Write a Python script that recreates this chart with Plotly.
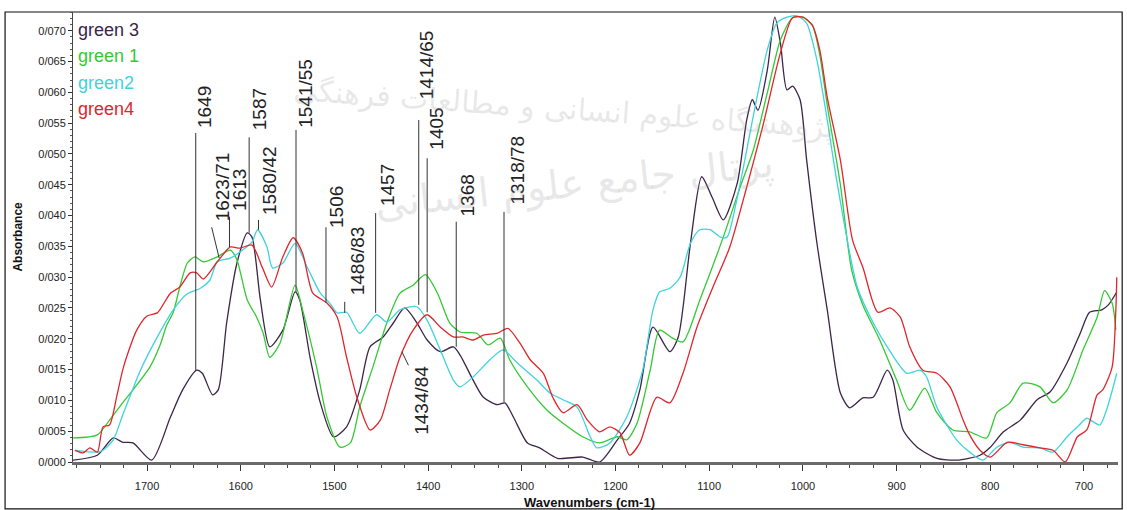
import plotly.graph_objects as go

# ---------------- data (wavenumber cm-1, absorbance) ----------------
wn_green3 = [1779,1753,1736,1726,1715,1695,1675,1662,1647,1641,1630,1624,1615,1604,1593,1588,1579,1569,1555,1542,
             1537,1526,1515,1501,1487,1473,1462,1448,1437,1425,1412,1401,1387,1373,1366,1352,1341,1326,1318,1309,
             1294,1281,1262,1235,1217,1198,1185,1174,1160,1142,1133,1120,1108,1097,1085,1070,1060,1054,1048,1038,
             1030,1024,1017,1011,1003,996,985,974,960,950,936,925,910,904,893,878,857,836,811,800,
             786,768,750,736,718,704,694,681,674,665]
abs_green3 = [0.0003,0.0011,0.0039,0.0032,0.0031,0.0003,0.0073,0.0117,0.0149,0.0144,0.0109,0.0117,0.0226,0.0323,0.0372,0.0365,0.0263,0.0187,0.0214,0.0276,
              0.0263,0.0170,0.0096,0.0041,0.0057,0.0117,0.0187,0.0203,0.0226,0.0250,0.0226,0.0198,0.0179,0.0187,0.0174,0.0133,0.0105,0.0093,0.0096,0.0073,
              0.0031,0.0023,0.0006,0.0008,0.0000,0.0036,0.0063,0.0117,0.0219,0.0179,0.0203,0.0355,0.0463,0.0430,0.0393,0.0453,0.0555,0.0588,0.0571,0.0636,
              0.0722,0.0680,0.0604,0.0610,0.0588,0.0490,0.0355,0.0247,0.0112,0.0088,0.0104,0.0105,0.0149,0.0133,0.0052,0.0024,0.0006,0.0003,0.0011,0.0024,
              0.0049,0.0068,0.0101,0.0114,0.0161,0.0209,0.0243,0.0247,0.0255,0.0276]

wn_green1 = [1779,1753,1740,1726,1715,1697,1686,1679,1672,1665,1657,1649,1640,1625,1611,1604,1593,1583,1576,1569,
             1558,1542,1534,1519,1508,1494,1483,1473,1459,1444,1430,1416,1403,1390,1377,1366,1348,1336,1323,1313,
             1294,1273,1256,1235,1217,1198,1188,1177,1163,1153,1139,1128,1110,1085,1067,1053,1038,1024,1011,1000,
             990,982,974,960,948,936,918,900,886,870,857,840,822,804,793,779,765,747,733,718,
             701,686,678,670,666]
abs_green1 = [0.0039,0.0044,0.0068,0.0096,0.0117,0.0154,0.0190,0.0222,0.0243,0.0284,0.0323,0.0333,0.0325,0.0333,0.0344,0.0328,0.0263,0.0235,0.0209,0.0170,
              0.0193,0.0287,0.0247,0.0154,0.0073,0.0024,0.0031,0.0089,0.0154,0.0226,0.0274,0.0287,0.0304,0.0274,0.0226,0.0211,0.0209,0.0190,0.0201,0.0166,
              0.0122,0.0084,0.0063,0.0041,0.0031,0.0041,0.0036,0.0063,0.0149,0.0214,0.0201,0.0195,0.0263,0.0365,0.0446,0.0506,0.0599,0.0685,0.0721,0.0722,
              0.0709,0.0661,0.0579,0.0450,0.0312,0.0255,0.0198,0.0133,0.0084,0.0120,0.0080,0.0052,0.0049,0.0039,0.0080,0.0096,0.0128,0.0122,0.0096,0.0117,
              0.0182,0.0235,0.0278,0.0258,0.0214]

wn_green2 = [1777,1753,1747,1736,1726,1707,1689,1672,1657,1643,1633,1625,1611,1598,1588,1582,1572,1566,1555,1542,
             1529,1515,1505,1497,1487,1473,1455,1444,1430,1412,1401,1387,1373,1366,1352,1334,1320,1305,1284,1270,
             1256,1241,1227,1220,1206,1188,1171,1160,1153,1142,1131,1120,1110,1099,1088,1081,1070,1060,1049,1038,
             1028,1017,1006,996,985,974,964,942,925,910,889,875,868,857,836,822,808,793,779,765,
             747,733,718,707,697,690,683,675,665]
abs_green2 = [0.0019,0.0016,0.0019,0.0036,0.0076,0.0149,0.0203,0.0247,0.0273,0.0282,0.0295,0.0325,0.0331,0.0344,0.0357,0.0377,0.0349,0.0315,0.0323,0.0355,
              0.0316,0.0274,0.0258,0.0242,0.0243,0.0209,0.0239,0.0227,0.0247,0.0252,0.0230,0.0182,0.0133,0.0122,0.0138,0.0166,0.0182,0.0161,0.0133,0.0112,
              0.0101,0.0089,0.0041,0.0023,0.0031,0.0073,0.0149,0.0247,0.0276,0.0282,0.0300,0.0355,0.0377,0.0377,0.0365,0.0365,0.0430,0.0506,0.0592,0.0669,
              0.0712,0.0722,0.0724,0.0712,0.0652,0.0555,0.0458,0.0284,0.0226,0.0187,0.0144,0.0149,0.0138,0.0089,0.0036,0.0016,0.0003,0.0024,0.0032,0.0024,
              0.0023,0.0016,0.0041,0.0057,0.0071,0.0065,0.0060,0.0089,0.0144]

wn_green4 = [1777,1768,1761,1753,1747,1740,1732,1726,1721,1711,1700,1689,1683,1675,1665,1654,1647,1640,1625,1611,
             1601,1588,1577,1567,1555,1544,1534,1523,1508,1497,1487,1476,1462,1451,1441,1430,1416,1401,1387,1373,
             1363,1352,1341,1326,1315,1302,1291,1277,1267,1256,1241,1230,1217,1206,1195,1185,1174,1156,1142,1128,
             1113,1096,1078,1060,1043,1024,1011,1000,990,982,974,960,947,936,920,907,896,886,872,857,
             843,829,822,811,800,782,765,747,733,720,707,697,686,680,670,666,665]
abs_green4 = [0.0019,0.0015,0.0023,0.0016,0.0057,0.0060,0.0109,0.0149,0.0174,0.0214,0.0237,0.0242,0.0255,0.0274,0.0284,0.0307,0.0307,0.0297,0.0325,0.0349,
              0.0347,0.0352,0.0316,0.0284,0.0333,0.0364,0.0339,0.0274,0.0258,0.0235,0.0170,0.0105,0.0052,0.0068,0.0117,0.0170,0.0214,0.0239,0.0219,0.0203,
              0.0203,0.0198,0.0206,0.0209,0.0217,0.0193,0.0166,0.0144,0.0105,0.0080,0.0093,0.0068,0.0049,0.0057,0.0047,0.0011,0.0031,0.0105,0.0096,0.0144,
              0.0219,0.0284,0.0349,0.0446,0.0544,0.0664,0.0721,0.0722,0.0709,0.0669,0.0592,0.0490,0.0360,0.0316,0.0243,0.0250,0.0235,0.0187,0.0149,0.0144,
              0.0122,0.0068,0.0044,0.0019,0.0008,0.0032,0.0028,0.0023,0.0019,0.0000,0.0041,0.0052,0.0109,0.0117,0.0154,0.0247,0.0300]

series_names = ["green 3", "green 1", "green2", "green4"]
series_wn = [wn_green3, wn_green1, wn_green2, wn_green4]
series_abs = [abs_green3, abs_green1, abs_green2, abs_green4]
series_colors = ["#3b2548", "#34c934", "#3fd3dc", "#e0262b"]

# peak annotations: label, leader line (x top, x bottom, y top, y bottom), label anchor (x, y of text bottom)
peak_labels = ["1649", "1623/71", "1613", "1587", "1580/42", "1541/55", "1506", "1486/83",
               "1457", "1414/65", "1405", "1368", "1318/78", "1434/84"]
line_x_top = [1648, 1631, 1612, 1591, 1581, 1541, 1509, 1489, 1456, 1410, 1401, 1370, 1319, 1428]
line_x_bot = [1648, 1623, 1612, 1591, 1581, 1541, 1509, 1489, 1456, 1410, 1401, 1370, 1319, 1421]
line_y_top = [0.0534, 0.0381, 0.0398, 0.0527, 0.0393, 0.0539, 0.0381, 0.0260, 0.0404, 0.0555, 0.0493, 0.0390, 0.0406, 0.0179]
line_y_bot = [0.0149, 0.0331, 0.0349, 0.0372, 0.0377, 0.0276, 0.0258, 0.0242, 0.0242, 0.0255, 0.0243, 0.0187, 0.0097, 0.0157]
label_x = [1638, 1619, 1602, 1580, 1570, 1531, 1497, 1476, 1444, 1402, 1391, 1358, 1305, 1407]
label_y = [0.0539, 0.0388, 0.0404, 0.0536, 0.0398, 0.0539, 0.0377, 0.0268, 0.0412, 0.0585, 0.0503, 0.0396, 0.0414, 0.0041]

y_tick_vals = [0.000, 0.005, 0.010, 0.015, 0.020, 0.025, 0.030, 0.035, 0.040, 0.045, 0.050, 0.055, 0.060, 0.065, 0.070]
y_tick_text = ["0/000", "0/005", "0/010", "0/015", "0/020", "0/025", "0/030", "0/035", "0/040", "0/045",
               "0/050", "0/055", "0/060", "0/065", "0/070"]
x_tick_vals = [1700, 1600, 1500, 1400, 1300, 1200, 1100, 1000, 900, 800, 700]

FONT = "Liberation Sans, Arial, sans-serif"

fig = go.Figure()
for name, xs, ys, col in zip(series_names, series_wn, series_abs, series_colors):
    fig.add_trace(go.Scatter(x=xs, y=ys, mode="lines", name=name, showlegend=False,
                             line=dict(color=col, width=1.3, shape="spline", smoothing=0.7)))

shapes = []
annotations = []
for lab, xt, xb, yt, yb, lx, ly in zip(peak_labels, line_x_top, line_x_bot, line_y_top, line_y_bot, label_x, label_y):
    shapes.append(dict(type="line", xref="x", yref="y", x0=xt, x1=xb, y0=yt, y1=yb,
                       line=dict(color="#333333", width=1)))
    annotations.append(dict(x=lx, y=ly, xref="x", yref="y", text=lab, showarrow=False,
                            textangle=-90, xanchor="center", yanchor="bottom",
                            font=dict(family=FONT, size=19, color="#222222")))

# legend as coloured text
for i, (name, col) in enumerate(zip(series_names, series_colors)):
    annotations.append(dict(x=0.003, y=0.987 - i * 0.059, xref="paper", yref="paper", text=name,
                            showarrow=False, xanchor="left", yanchor="top",
                            font=dict(family=FONT, size=18, color=col)))

# axis titles
annotations.append(dict(x=-0.053, y=0.5, xref="paper", yref="paper", text="<b>Absorbance</b>",
                        textangle=-90, showarrow=False, xanchor="center", yanchor="middle",
                        font=dict(family=FONT, size=12, color="#111111")))
annotations.append(dict(x=0.494, y=-0.089, xref="paper", yref="paper", text="<b>Wavenumbers (cm-1)</b>",
                        showarrow=False, xanchor="center", yanchor="middle",
                        font=dict(family=FONT, size=13, color="#111111")))

# faint background watermark
annotations.append(dict(x=0.47, y=0.87, xref="paper", yref="paper",
                        text="پژوهشگاه علوم انسانی و مطالعات فرهنگی", showarrow=False, textangle=4,
                        font=dict(family="DejaVu Sans", size=30, color="rgba(150,150,150,0.22)")))
annotations.append(dict(x=0.48, y=0.62, xref="paper", yref="paper",
                        text="پرتال جامع علوم انسانی", showarrow=False, textangle=-6,
                        font=dict(family="DejaVu Sans", size=40, color="rgba(150,150,150,0.22)")))

# outer frame
shapes.append(dict(type="rect", xref="paper", yref="paper", x0=-0.065, x1=1.004, y0=-0.104, y1=1.0,
                   line=dict(color="#111111", width=1.2), layer="below"))

fig.update_layout(
    width=1127, height=510,
    margin=dict(l=73, r=9, t=12, b=48),
    paper_bgcolor="white", plot_bgcolor="white",
    shapes=shapes, annotations=annotations,
    showlegend=False,
)
fig.update_xaxes(range=[1779, 663.7], tickvals=x_tick_vals, ticks="outside", ticklen=6, tickwidth=1,
                 tickcolor="#333333", showline=True, linecolor="#6b6b6b", linewidth=3, showgrid=False,
                 zeroline=False, ticklabelstandoff=6,
                 tickfont=dict(family=FONT, size=11, color="#222222"),
                 minor=dict(dtick=25, ticks="outside", ticklen=3, tickcolor="#444444"))
fig.update_yaxes(range=[0, 0.07304], tickvals=y_tick_vals, ticktext=y_tick_text, ticks="outside", ticklen=4,
                 tickcolor="#333333", showline=True, linecolor="#444444", linewidth=1, showgrid=False,
                 zeroline=False, tickfont=dict(family=FONT, size=11, color="#222222"),
                 minor=dict(dtick=0.001, ticks="outside", ticklen=2, tickcolor="#555555"))

fig.write_html("out.html", config={"displayModeBar": False},
               post_script="document.body.style.margin='0px';document.body.style.overflow='hidden';")
